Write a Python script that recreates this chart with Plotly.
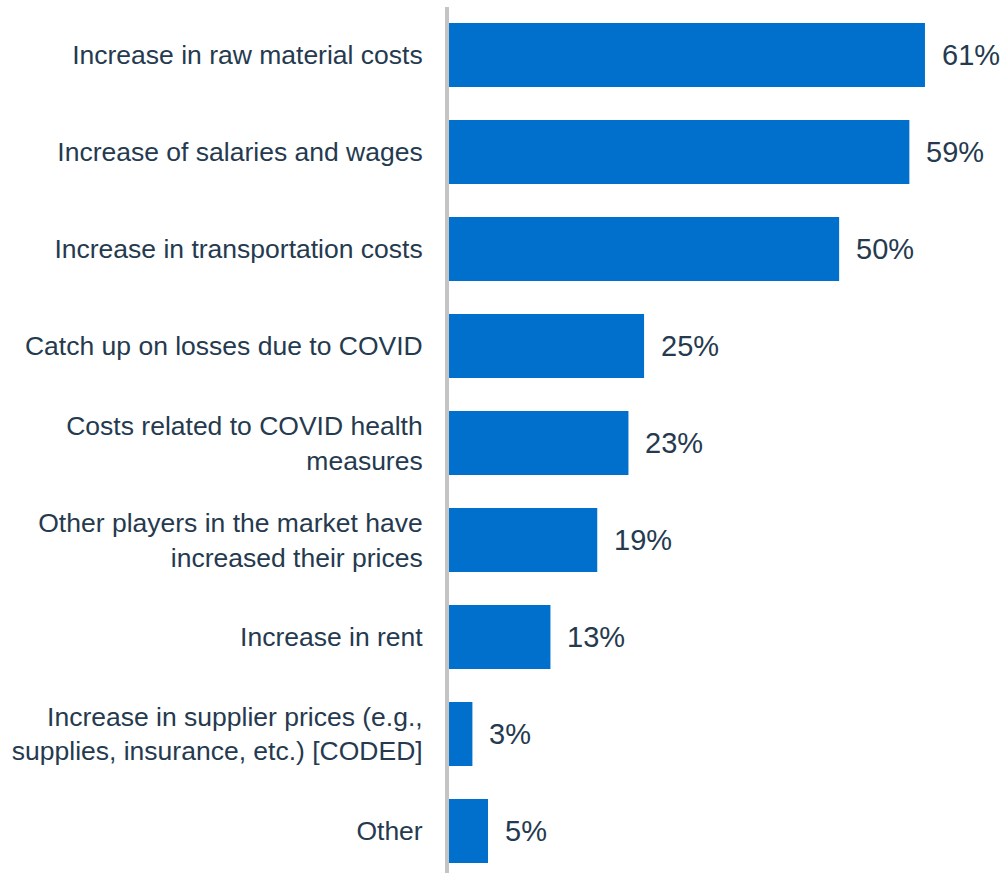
import plotly.graph_objects as go

# Reasons cited for raising prices (share of respondents, %)
reasons = [
    "Increase in raw material costs",
    "Increase of salaries and wages",
    "Increase in transportation costs",
    "Catch up on losses due to COVID",
    "Costs related to COVID health<br>measures",
    "Other players in the market have<br>increased their prices",
    "Increase in rent",
    "Increase in supplier prices (e.g.,<br>supplies, insurance, etc.) [CODED]",
    "Other",
]
shares = [61, 59, 50, 25, 23, 19, 13, 3, 5]

BAR_COLOR = "#0070CC"
TEXT_COLOR = "#253A4F"
FONT = "Liberation Sans, Arial, sans-serif"

fig = go.Figure(
    go.Bar(
        x=shares,
        y=reasons,
        orientation="h",
        width=0.66,
        marker=dict(color=BAR_COLOR, line=dict(width=0)),
        hoverinfo="skip",
    )
)

# Percentage labels just past the end of each bar
for r, v in zip(reasons, shares):
    fig.add_annotation(
        x=v, y=r, text=f"{v}%", showarrow=False,
        xanchor="left", yanchor="middle", xshift=15,
        font=dict(family=FONT, size=29, color=TEXT_COLOR),
    )

fig.update_layout(
    width=1003, height=873,
    margin=dict(l=449, r=0, t=7, b=0),
    paper_bgcolor="white", plot_bgcolor="white",
    showlegend=False,
    font=dict(family=FONT, size=26.5, color=TEXT_COLOR),
)
fig.update_xaxes(range=[0, 71.0], visible=False, fixedrange=True)
fig.update_yaxes(
    type="category",
    categoryorder="array", categoryarray=reasons,
    range=[8.433, -0.495],
    showline=True, linecolor="#C4C4C4", linewidth=4,
    showgrid=False, zeroline=False,
    ticks="", ticklabelstandoff=17,
    tickfont=dict(family=FONT, size=26.5, color=TEXT_COLOR),
    fixedrange=True,
)

fig.write_html("out.html")
